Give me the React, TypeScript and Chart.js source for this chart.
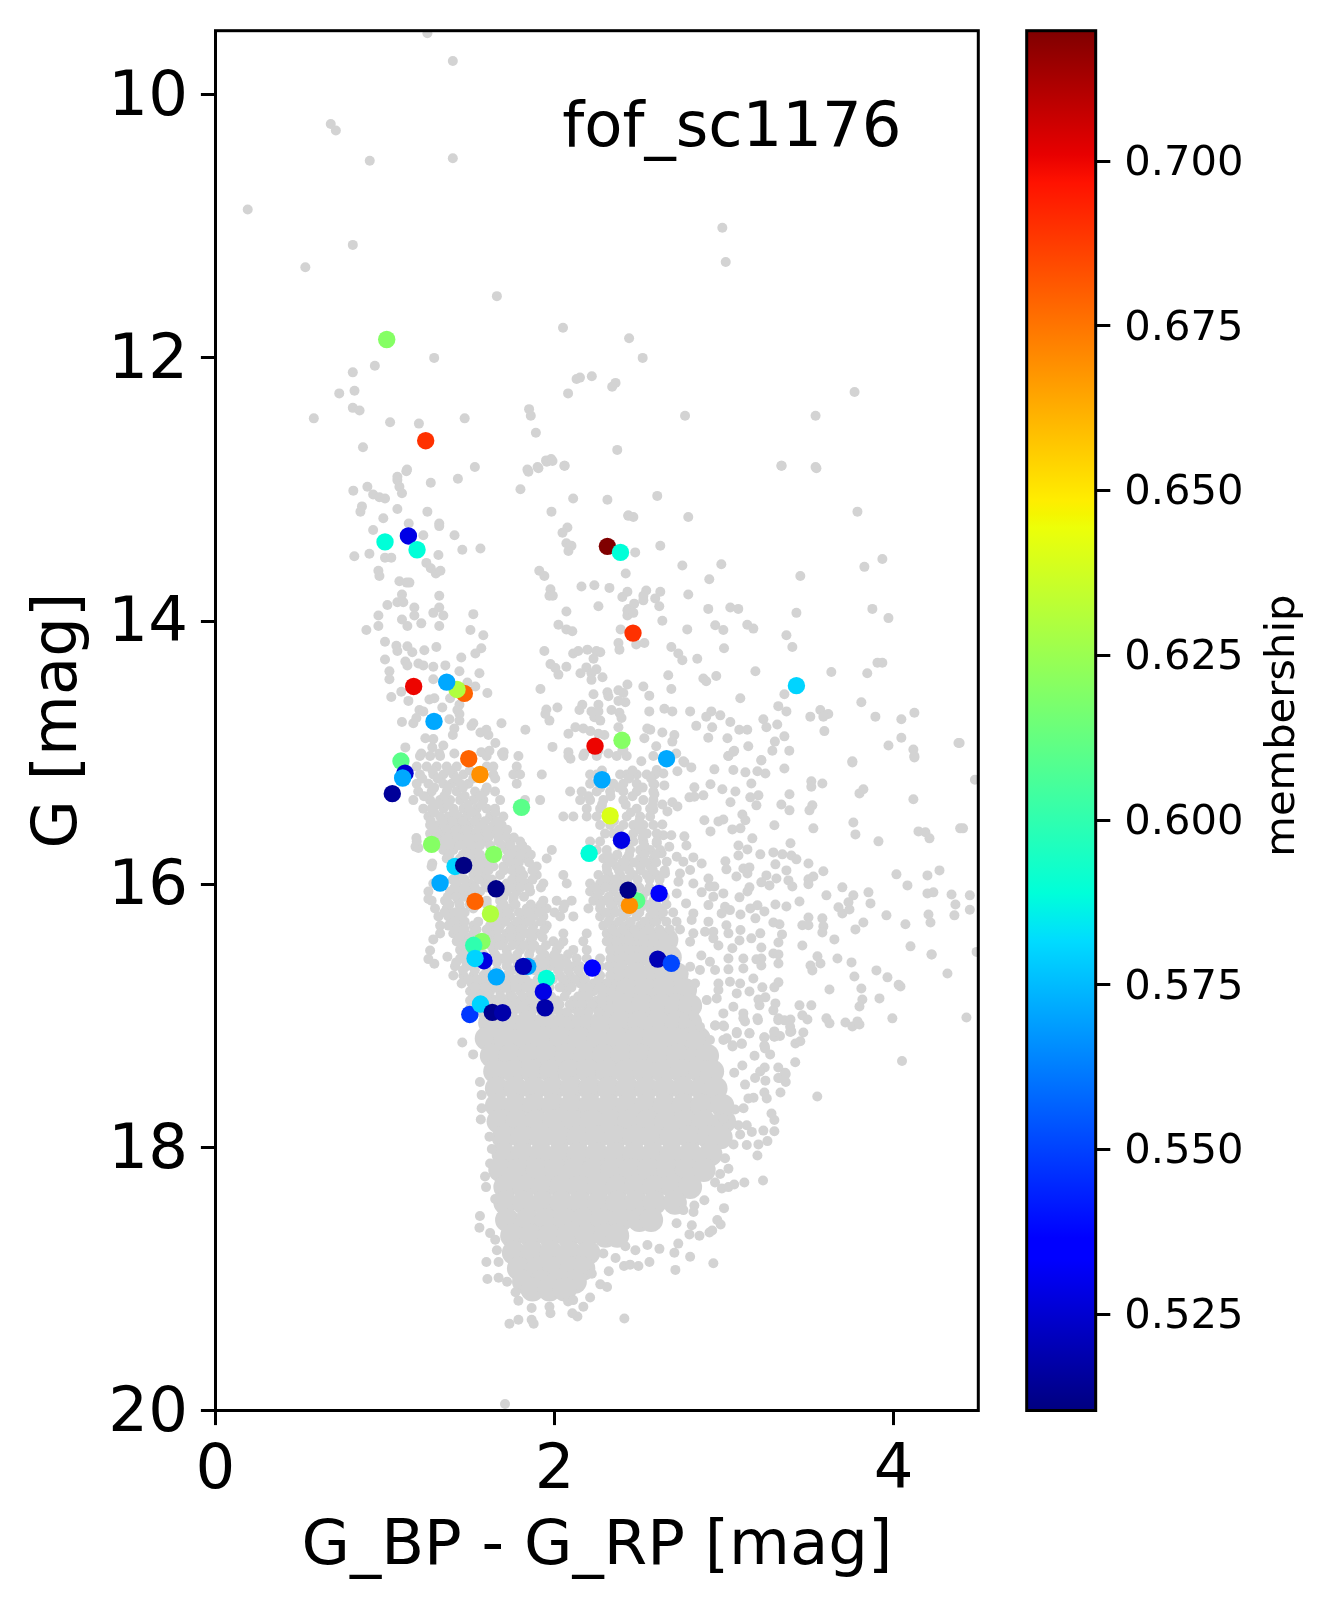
import React, { useEffect, useRef } from "react";
import { Chart, registerables } from "chart.js";

Chart.register(...registerables);

const xTicks = [0, 2, 4];
const yTicks = [10, 12, 14, 16, 18, 20];
const barTicks = [0.525, 0.55, 0.575, 0.6, 0.625, 0.65, 0.675, 0.7];
const xLimits = [0, 4.5];
const yLimits = [9.513, 20];
const barLimits = [0.5104, 0.7198];
const clusterName = "fof_sc1176";
const xName = "G_BP - G_RP [mag]";
const yName = "G [mag]";
const barName = "membership";
const FONT = "'DejaVu Sans'";

// candidate members: colour index, magnitude, membership probability
const memberBpRp = [1.01,1.24,1.0,1.138,1.189,2.312,2.389,2.463,3.427,1.169,1.468,1.425,1.364,1.289,2.239,2.398,1.094,1.494,1.56,1.118,1.104,1.043,2.28,2.661,1.805,2.328,2.395,1.275,1.641,2.204,1.413,1.464,1.325,1.655,2.485,2.442,2.434,2.617,1.531,1.622,1.572,1.523,1.584,1.531,1.657,1.842,1.816,2.223,2.609,2.689,1.952,1.934,1.944,1.5,1.563,1.633,1.694];
const memberG = [11.85,12.62,13.39,13.345,13.45,13.424,13.47,14.084,14.484,14.49,14.543,14.513,14.457,14.756,14.944,14.9,15.058,15.04,15.16,15.15,15.187,15.306,15.2,15.04,15.41,15.474,15.66,15.692,15.768,15.76,15.86,15.852,15.986,16.03,16.12,16.156,16.04,16.065,16.126,16.22,16.43,16.46,16.577,16.56,16.7,16.62,16.62,16.633,16.565,16.597,16.712,16.813,16.935,16.986,16.907,16.97,16.973];
const memberProb = [0.62,0.69,0.589,0.529,0.589,0.7198,0.589,0.69,0.58,0.7,0.679,0.63,0.571,0.571,0.7,0.62,0.61,0.679,0.669,0.525,0.571,0.515,0.571,0.571,0.61,0.64,0.529,0.62,0.62,0.589,0.58,0.511,0.571,0.512,0.61,0.669,0.512,0.533,0.679,0.63,0.62,0.6,0.528,0.58,0.571,0.571,0.52,0.536,0.52,0.551,0.589,0.529,0.518,0.548,0.58,0.513,0.518];

// sparse field stars: [colour, magnitude]
const greyOutliers = [
[1.25,9.52],[1.4,9.73],[0.68,10.21],[0.71,10.26],[0.91,10.49],[1.4,10.47],[0.19,10.86],[0.81,11.13],[0.53,11.3],[1.66,11.52],[2.05,11.76],[1.29,11.99],[0.94,12.05],[0.81,12.1],[2.13,12.15],[2.08,12.26],[0.73,12.26],[0.82,12.24],[0.81,12.37],[0.85,12.39],[0.58,12.45],[1.03,12.48],[1.2,12.49],[1.47,12.45],[1.85,12.38],[1.86,12.43],[1.89,12.56],[0.87,12.67],[1.13,12.84],[1.53,12.82],[1.84,12.84],[1.9,12.82],[1.95,12.77],[1.98,12.76],[2.06,12.81],
[2.99,11],[3.01,11.26],[2.44,11.84],[2.52,11.99],[2.22,12.13],[2.15,12.14],[2.36,12.18],[2.34,12.21],[3.77,12.25],[2.77,12.43],[3.54,12.43],[2.37,12.69],[3.34,12.81],[3.54,12.82],
[1.126,12.853],[1.073,12.894],[1.073,12.92],[1.27,12.94],[1.43,12.91],[0.896,12.97],[0.813,13],[1.085,12.97],[1.1,13.02],[0.93,13.03],[0.967,13.05],[1,13.06],[0.864,13.12],[0.855,13.16],[1.073,13.14],[1.25,13.16],[0.99,13.21],[0.93,13.3],[1.14,13.25],[1.32,13.25],[1.32,13.27],[1.226,13.34],[1.41,13.34],[0.908,13.48],[0.819,13.5],[1,13.51],[1.037,13.51],[1.315,13.49],[1.456,13.45],[1.563,13.44],[1.244,13.55],[1.27,13.59],[1.3,13.63],[1.327,13.61],[0.961,13.61],[0.967,13.65],[1.085,13.69],[1.128,13.7],[1.144,13.7],[1.32,13.8],[1.1,13.79],[1.073,13.85],[1.014,13.87],[1.108,13.85],[1.173,13.89],[1.173,13.95],[1.32,13.89],[1.285,13.93],[1.344,13.95],[0.961,13.95],[0.961,14.03],[0.89,14.06],[1.1,13.98],[1.132,14.03],[1.214,14.01],[1.32,14.03],[1.521,13.94],[1.504,14.06],[1.58,14.1],[1,14.15],[1.067,14.18],[1.073,14.22],[1.132,14.185],[1.161,14.23],[1.232,14.215],[1.303,14.19],[1.568,14.2],[1.533,14.24],[1.45,14.27],[1,14.285],[1.12,14.3],[1.132,14.33],[1.197,14.315],[1.226,14.33],[1.285,14.34],[1.356,14.33],[1.026,14.375],[1.026,14.436],[1.439,14.375],[1.557,14.39],[1.285,14.436],[1.486,14.46],[1.533,14.49],[1.604,14.54],[1.096,14.53],[1.037,14.57],[1.138,14.6],[1.262,14.59],[1.291,14.58],[1.338,14.65],[1.384,14.58],[1.439,14.63],[1.427,14.67],[1.203,14.67],[1.226,14.68],[1.1,14.76],[1.167,14.77],[1.185,14.73],[1.439,14.7],[1.439,14.75],[1.38,14.74],[1.409,14.81],[1.4,14.86],[1.521,14.77],[1.51,14.79],[1.687,14.77],[1.598,14.82],[1.563,14.84],[1.61,14.86],[1.651,14.92],[1.828,14.82],[1.238,14.885],[1.285,14.89],[1.12,14.954],[1.279,14.954],[1.344,14.94],[1.214,15],[1.32,15],[1.409,15],[1.568,14.99],[1.616,14.98],[1.7,14.99],[1.69,15],[1.787,15.02],
[1.846,12.856],[1.905,12.83],[1.954,12.78],[1.988,12.775],[2.058,12.81],[1.799,12.99],[2.11,13.06],[2.312,13.07],[1.982,13.16],[2.436,13.19],[2.076,13.28],[2.047,13.32],[2.07,13.4],[2.1,13.42],[2.082,13.46],[1.91,13.61],[1.94,13.65],[2.159,13.73],[2.235,13.72],[2.324,13.74],[1.976,13.75],[1.97,13.8],[1.99,13.8],[2.42,13.63],[2.43,13.77],[2.4,13.81],[2.259,13.88],[2.07,13.92],[2.43,13.95],[2.436,13.9],[2.023,14.02],[2.07,14.056],[2.105,14.07],[2.39,14.056],[2.377,14.16],[2.383,14.21],[1.94,14.22],[2.11,14.24],[2.14,14.22],[2.194,14.21],[2.247,14.22],[2.27,14.23],[2.23,14.28],[1.976,14.32],[2.005,14.35],[2.023,14.4],[2.07,14.34],[2.153,14.39],[2.188,14.345],[2.218,14.39],[2.247,14.36],[2.218,14.44],[2.283,14.42],[1.917,14.51],[2.23,14.55],[2.312,14.535],[2.318,14.565],[2.377,14.52],[2.406,14.54],[2.377,14.6],[2.418,14.61],[2.43,14.475],[2.017,14.65],[1.952,14.665],[1.946,14.7],[1.97,14.75],[2.164,14.63],[2.147,14.67],[2.259,14.63],[2.218,14.68],[2.235,14.725],[2.27,14.75],[2.259,14.68],[2.336,14.67],[2.383,14.69],[2.395,14.73],[2.377,14.8],[2.082,14.85],[2.123,14.8],[2.17,14.81],[2.212,14.83],[2.259,14.85],[2.294,14.86],[1.988,14.95],[2.082,14.99],[2.094,15.04],[2.176,15],[2.318,15],[2.259,14.98],[2.4,14.98],
[3.338,12.81],[3.545,12.83],[2.606,13.04],[2.435,13.19],[2.465,13.2],[2.789,13.2],[3.787,13.16],[2.476,13.47],[2.624,13.42],[2.754,13.57],[2.984,13.56],[2.913,13.675],[3.45,13.65],[3.828,13.58],[3.934,13.52],[2.541,13.76],[2.624,13.77],[2.524,13.8],[2.524,13.835],[2.594,13.82],[2.47,13.86],[2.618,13.88],[2.789,13.79],[2.43,13.91],[2.465,13.93],[2.636,13.99],[2.783,14.056],[2.907,13.9],[3.037,13.89],[3.084,13.9],[3.427,13.93],[3.875,13.9],[3.97,13.97],[2.948,14.025],[2.996,14.06],[3.137,14.02],[3.173,14.05],[3.368,14.1],[3.403,14.19],[3,14.2],[2.689,14.19],[2.73,14.24],[2.754,14.29],[2.842,14.28],[2.482,14.17],[2.53,14.16],[2.671,14.405],[2.878,14.43],[2.895,14.45],[2.954,14.41],[3.185,14.375],[3.633,14.38],[3.845,14.39],[3.905,14.31],[3.934,14.31],[2.524,14.49],[2.559,14.56],[2.689,14.51],[3.096,14.58],[3.356,14.55],[3.32,14.64],[3.368,14.68],[3.81,14.61],[3.568,14.67],[3.615,14.7],[3.586,14.72],[3.509,14.72],[3.893,14.72],[4.046,14.74],[4.123,14.69],[2.559,14.68],[2.648,14.66],[2.695,14.68],[2.8,14.68],[2.925,14.68],[2.895,14.72],[2.978,14.71],[3.037,14.76],[3.232,14.74],[3.25,14.8],[3.314,14.78],[2.836,14.79],[2.93,14.8],[3.09,14.82],[3.137,14.82],[3.592,14.83],[2.547,14.81],[2.565,14.82],[2.53,14.885],[2.636,14.84],[2.707,14.86],[2.695,14.91],[2.6,14.945],[2.907,14.88],[3.02,14.885],[3.356,14.87],[3.3,14.91],[3.143,14.945],[3.06,14.98],[3.025,15.02],[3.285,14.98],[3.385,14.98],[3.22,15.05],[3.97,14.94],[4.046,14.88],[4.117,14.97],[4.123,15.02],[4.383,14.92],[3.757,15.06],[2.718,15],[2.76,15.06],[2.512,15.06],[2.406,14.97],
[2.943,15.121],[3.055,15.126],[3.126,15.144],[3.197,15.136],[3.244,15.152],[3.356,15.114],[3.22,15.053],[3.026,15.02],[3.055,14.987],[3.757,15.068],[4.123,15.03],[2.725,15.136],[2.807,15.106],[2.766,15.068],[2.642,15.152],[2.603,15.126],[2.648,15.243],[2.589,15.235],[2.589,15.311],[2.825,15.258],[2.92,15.235],[2.99,15.273],[3.067,15.289],[3.161,15.228],[2.796,15.334],[2.825,15.329],[2.878,15.319],[3.155,15.334],[3.203,15.319],[3.038,15.372],[3.191,15.395],[3.386,15.311],[3.338,15.388],[3.386,15.433],[3.515,15.212],[3.515,15.253],[3.58,15.228],[3.521,15.395],[3.504,15.433],[3.822,15.273],[3.799,15.304],[4.117,15.349],[2.636,15.388],[2.695,15.372],[2.725,15.403],[2.666,15.441],[2.583,15.426],[2.884,15.509],[2.967,15.517],[2.996,15.502],[2.92,15.593],[3.108,15.464],[3.126,15.509],[3.049,15.578],[3.097,15.57],[3.297,15.547],[3.527,15.57],[3.763,15.525],[3.775,15.616],[3.911,15.669],[4.147,15.593],[4.188,15.6],[4.212,15.646],[4.393,15.57],[2.636,15.54],[2.642,15.623],[2.689,15.623],[2.766,15.631],[2.778,15.7],[2.677,15.71],[2.603,15.684],[2.632,15.76],[3.167,15.646],[3.085,15.7],[3.138,15.73],[3.085,15.776],[3.214,15.768],[3.291,15.753],[3.344,15.768],[3.397,15.776],[3.427,15.806],[3.392,15.684],[3.498,15.837],[3.586,15.897],[2.662,15.824],[2.721,15.786],[2.819,15.791],[2.868,15.837],[2.8,15.887],[2.76,15.824],[2.74,15.913],[3.008,15.821],[3.014,15.882],[3.073,15.936],[3.114,15.875],[3.15,15.867],[3.138,15.913],[3.303,15.844],[3.368,15.89],[2.908,15.951],[2.819,15.989],[2.731,15.976],[2.652,15.913],[2.721,16.065],[2.943,16.012],[2.914,16.012],[2.868,16.057],[2.996,16.065],[2.937,16.09],[3.091,16.095],[3.15,16.019],[3.138,16.05],[3.25,15.928],[3.22,15.981],[3.268,16.004],[3.309,15.951],[3.38,15.966],[3.403,16.012],[3.498,15.958],[3.527,15.936],[3.498,15.996],[4.017,15.92],[4.2,15.928],[4.271,15.89],[4.082,16.004],[4.2,16.065],[4.235,16.057],[4.342,16.073],[3.604,16.08],[3.698,16.019],[3.763,16.08],[3.852,16.057],[3.734,16.133],[3.864,16.141],[3.675,16.171],[3.698,16.217],[3.74,16.187],[4.365,16.149],[4.359,16.232],[4.206,16.225],[4.218,16.286],[3.958,16.232],[4.07,16.3],[3.303,16.149],[3.368,16.164],[3.445,16.126],[3.155,16.179],[3.197,16.156],[3.238,16.202],[3.097,16.225],[3.185,16.255],[2.776,16.141],[2.819,16.217],[2.809,16.268],[2.908,16.154],[3.006,16.166],[3.035,16.192],[2.986,16.217],[3.291,16.286],[3.327,16.3],[3.498,16.248],[3.462,16.308],[3.498,16.308],[3.58,16.255],[3.586,16.316],[3.58,16.362],[3.822,16.286],[3.775,16.339],[3.651,16.415],[3.462,16.461],[4.1,16.468],[4.224,16.529],[3.342,16.377],[3.321,16.438],[3.161,16.407],[3.214,16.369],[3.097,16.344],[3.014,16.308],[3.026,16.369],[2.908,16.28],[2.888,16.357],[2.937,16.357],[2.937,16.407],[2.967,16.461],[2.819,16.369],[2.8,16.433],[3.091,16.423],[3.049,16.483],[3.22,16.476],[3.291,16.522],[3.321,16.529],[3.321,16.598],[3.551,16.544],[3.669,16.56],[3.752,16.59],[3.51,16.613],[3.569,16.598],[3.521,16.651],[3.899,16.651],[3.769,16.697],[3.964,16.704],[4.318,16.674],[4.041,16.773],[3.81,16.788],[3.622,16.796],[3.917,16.864],[3.816,16.872],[3.799,16.925],[3.993,17.016],[2.866,16.537],[3.026,16.56],[3.191,16.567],[3.22,16.56],[3.22,16.613],[3.114,16.56],[3.114,16.636],[2.917,16.585],[3.026,16.643],[3.173,16.712],[3.226,16.78],[3.321,16.742],[3.297,16.78],[3.15,16.811],[3.445,16.917],[3.515,16.917],[3.244,16.856],[3.203,16.872],[3.209,16.917],[3.303,16.902],[3.291,16.955],[3.321,17.016],[3.356,17.031],[3.392,17.024],[3.462,16.993],[3.492,17.024],[3.197,17.016],[3.604,17.016],[3.622,17.054],[3.716,17.047],[3.757,17.077],[3.787,17.039],[3.799,17.062],[3.397,17.115],[3.468,17.123],[3.421,17.207],[3.297,17.115],[3.297,17.153],[3.238,17.161],[3.238,17.222],[3.15,17.13],[2.949,17.07],[3,17.077],[3.075,17.13],[3.114,17.016],[3.016,17.168],[3.104,17.207],[3.051,17.22],[2.858,16.648],[2.829,16.75],[2.947,16.648],[2.967,16.75],[3.035,16.737],[3.095,16.75],[2.967,16.8],[3.075,16.826],[2.898,16.877],[2.996,16.978],[3.055,16.927],[3.114,16.978],[2.957,16.864],[2.839,16.927],[2.819,17],[2.858,17.08],[2.917,17.18],[2.8,16.623],[2.76,16.674],
[1.185,15.644],[1.18,15.71],[1.197,15.72],[1.279,15.837],[1.256,16.108],[1.266,16.5],[1.256,16.565],[1.291,16.6],[1.368,16.547],[1.285,16.415],
[4.45,16.08],[4.45,16.19],[4.49,16.51],[4.43,17.01],[4.225,16.53],[4.05,17.34],[4.03,16.76],[4.41,15.57],[4.48,15.2],[4.39,14.92],[1.708,19.95],
[3.33,17.47],[3.36,17.43],[3.55,17.61],[3.24,17.39],[3.33,17.15],[3.39,17.08],[3.45,17.19],[3.42,17.35],[3.24,17.23],[3.28,17.74],
[1.456,17.2],[1.52,17.29],[1.56,17.5],[1.57,17.6],[1.57,17.7],[1.565,17.785],[1.616,17.917],[1.63,18.01],[1.62,18.12],[1.59,18.22],[1.596,18.3],[1.65,18.39],[1.56,18.52],[1.557,18.61],[1.62,18.65],[1.65,18.7],[1.66,18.78],[1.67,18.87],[1.598,18.87],[1.604,19],[1.67,18.99],[1.72,19.02],[1.77,19.1],[1.787,19.165],[1.865,19.22],[1.734,19.34],[1.787,19.31],[1.865,19.31],[1.877,19.34],[1.97,19.21],[1.976,19.26],[2.08,19.17],[2.11,19.16],[2.105,19.26],[2.135,19.285],[2.17,19.21],[2.21,19.14],[2.412,19.3],[2.27,19.04],[2.31,19.06],[2.22,18.96],[2.32,18.94],[2.41,18.9],[2.446,18.89],[2.495,18.9],[2.56,18.87],[2.713,18.93],[2.937,18.88],[2.8,18.83],[2.707,18.8],[2.73,18.73],[2.548,18.74],[2.619,18.77],[2.477,18.78],[2.418,18.75],[2.36,18.84],[2.288,18.805],[2.796,18.66],[2.855,18.67],[2.914,18.645],[2.93,18.63],[2.96,18.55],[2.98,18.585],[3,18.46],[2.81,18.59],[2.72,18.575],[2.82,18.49],[2.825,18.44],[2.884,18.4],[2.76,18.475],[2.987,18.31],[3.026,18.3],[3.06,18.28],[3.12,18.265],[3.23,18.25],[2.947,18.265],[2.977,18.2],[3.026,18.16],[3.006,18.08],[3.056,17.975],[3.134,17.98],[3.197,18.06],[3.203,17.975],[3.256,17.95],[3.232,17.87],[3.297,17.875],[3.297,17.79],[3.095,17.9],[3.164,17.88],[3.134,17.83],[3.085,17.83],[3.115,17.7],[3.065,17.71],[2.996,17.78],[3.144,17.625],[3.174,17.62],[3.252,17.625],[3.238,17.58],[3.333,17.58],[3.32,17.47],[3.364,17.44],[3.364,17.5],[3.244,17.49],[3.124,17.52],[3.183,17.47],[3.213,17.42],[3.32,17.39],[3.06,17.43],[3.108,17.375],[3.18,17.3],[3.272,17.29],[3.242,17.245],[3.238,17.16],[3.297,17.156],[3.297,17.12],[3.39,17.12],[3.15,17.13],[3.105,17.21],[3.05,17.23],[2.996,17.18],[2.947,17.07],[2.996,17.07],[3.075,17.12],[3.124,17.04],[3.2,17.03],[3.32,17.03],
];

// crowded parts of the two sequences, row by row: magnitude, then colours
const greyRows = [
[15.02,1.206,1.266,1.325,1.6,1.698,2.082,2.17,2.249,2.367,2.426,2.583],
[15.1,1.187,1.246,1.305,1.364,1.423,1.6,1.639,1.777],
[15.16,1.206,1.285,1.344,1.403,1.462,1.639,1.757,1.797,1.925,2.21,2.249,2.387,2.426,2.485,2.544,2.593],
[15.23,1.187,1.256,1.344,1.393,1.443,1.492,1.777,2.21,2.269,2.347,2.406,2.485,2.583],
[15.29,1.196,1.275,1.364,1.423,1.531,1.59,1.649,2.092,2.16,2.249,2.328,2.406,2.485,2.583],
[15.355,1.167,1.266,1.325,1.384,1.443,1.521,1.58,1.679,1.826,1.915,2.151,2.21,2.288,2.406,2.524,2.583],
[15.42,1.226,1.275,1.344,1.403,1.462,1.541,1.6,1.649,2.19,2.269,2.485,2.564],
[15.48,1.256,1.325,1.374,1.433,1.482,1.541,1.62,1.698,2.052,2.111,2.19,2.249,2.426,2.505,2.564],
[15.545,1.266,1.315,1.374,1.443,1.502,1.561,1.639,1.688,2.269,2.328,2.406,2.465,2.524,2.583],
[15.61,1.266,1.334,1.393,1.452,1.521,1.58,1.639,1.698,2.298,2.347,2.465,2.544,2.603],
[15.67,1.187,1.344,1.403,1.462,1.531,1.59,1.669,1.738,1.797,2.21,2.269,2.465,2.524,2.603],
[15.735,1.344,1.403,1.482,1.541,1.718,1.777,1.836,1.984,2.249,2.308,2.446,2.505,2.564,2.623],
[15.8,1.364,1.443,1.521,1.58,1.718,1.777,1.836,1.954,2.288,2.347,2.426,2.505,2.583],
[15.86,1.275,1.423,1.521,1.58,1.639,1.698,1.767,1.895,2.308,2.367,2.426,2.505,2.564],
[15.925,1.443,1.521,1.59,1.679,1.777,1.816,1.895,2.052,2.259,2.318,2.387,2.465,2.544,2.603],
[15.99,1.285,1.423,1.502,1.59,1.718,1.777,1.836,1.934,2.072,2.21,2.269,2.328,2.387],
[16.05,1.256,1.384,1.443,1.502,1.561,1.718,1.777,1.856,2.21,2.269,2.347,2.544],
[16.12,1.275,1.354,1.433,1.6,1.679,1.757,1.934,2.013,2.101,2.229,2.288,2.367,2.583],
[16.18,1.295,1.364,1.443,1.521,1.679,1.738,1.836,1.895,1.954,2.052,2.2,2.269,2.347,2.406,2.505,2.564,2.623],
[16.24,1.315,1.374,1.433,1.679,1.738,1.816,1.875,1.934,2.033,2.111,2.269,2.328,2.406,2.485,2.564,2.623],
[16.31,1.325,1.374,1.443,1.521,1.62,1.679,1.757,1.816,1.875,1.954,2.288,2.347,2.426,2.505,2.564],
[16.37,1.325,1.403,1.462,1.521,1.639,1.718,1.777,1.836,1.895,2.052,2.19,2.308,2.367,2.446,2.524,2.583],
[16.43,1.423,1.482,1.639,1.698,1.777,1.856,1.993,2.052,2.17,2.308,2.367,2.446,2.524,2.583],
[16.495,1.443,1.502,1.639,1.718,1.797,1.856,1.915,2.013,2.111,2.19,2.328,2.387,2.446,2.524],
[16.56,1.443,1.679,1.738,1.915,1.974,2.033,2.131,2.19,2.269,2.33],
[16.62,1.413,1.482,1.718,1.915,1.974,2.033,2.111,2.151,2.269,2.318],
[16.69,1.403,1.462,1.521,1.58,1.718,1.797,1.915,2.033,2.092,2.151,2.269,2.328],
[16.75,1.452,1.511,1.561,1.62,1.679,1.738,1.797,1.856,2.072,2.151,2.229,2.308],
[16.81,1.502,1.561,1.62,1.679,1.738,1.797,1.856,2.072,2.17,2.229,2.308],
[16.88,1.502,1.639,1.718,1.777,1.836,1.895,2.013,2.111,2.17,2.249],
[16.94,1.502,1.561,2.013,2.111,2.19,2.249],
[15.13,1.28,1.38,1.5,2.28,2.46],
[15.19,1.22,1.31,1.42,1.52,1.65,2.3,2.44,2.57],
[15.26,1.29,1.37,1.46,1.6,2.27,2.38,2.52],
[15.325,1.23,1.35,1.47,1.56,2.2,2.33,2.46],
[15.39,1.3,1.37,1.49,1.57,2.28,2.42,2.58],
[15.45,1.29,1.41,1.51,1.65,2.31,2.45],
[15.515,1.27,1.34,1.4,1.46,1.53,1.59,1.66,2.35,2.5],
[15.58,1.29,1.36,1.42,1.48,1.55,1.6,1.66,1.72,2.38,2.5],
[15.64,1.3,1.37,1.43,1.49,1.55,1.61,1.67,1.72,1.76,2.4,2.52],
[15.7,1.33,1.38,1.44,1.51,1.56,1.62,1.69,1.74,1.81,2.39,2.53],
[15.77,1.38,1.46,1.5,1.56,1.74,1.8,1.86,2.31,2.37,2.44,2.53,2.6],
[15.83,1.4,1.47,1.55,1.6,1.74,1.79,1.85,2.33,2.4,2.47,2.54,2.6],
[15.89,1.46,1.55,1.61,1.7,1.75,1.8,1.87,2.31,2.38,2.44,2.51,2.58,2.65],
[15.96,1.4,1.47,1.55,1.63,1.75,1.8,1.87,2.3,2.36,2.43,2.49,2.56,2.62],
[16.02,1.41,1.47,1.53,1.6,1.74,1.8,1.85,1.92,2.24,2.3,2.36,2.42,2.5,2.56,2.62],
[16.09,1.37,1.42,1.47,1.53,1.7,1.76,1.82,2.25,2.32,2.38,2.44,2.52,2.59,2.65],
[16.15,1.38,1.44,1.5,1.6,1.7,1.77,1.86,1.92,2.06,2.27,2.33,2.4,2.47,2.54,2.6,2.66],
[16.21,1.35,1.41,1.47,1.72,1.79,1.85,1.91,2,2.3,2.36,2.43,2.5,2.58,2.64,2.7],
[16.28,1.41,1.47,1.55,1.64,1.71,1.78,1.85,1.92,2.32,2.38,2.45,2.53,2.6,2.66,2.72],
[16.34,1.42,1.47,1.54,1.6,1.67,1.74,1.8,1.87,1.94,2.34,2.4,2.47,2.55,2.62,2.68,2.74],
[16.4,1.44,1.5,1.6,1.67,1.74,1.8,1.87,1.93],
[16.46,1.46,1.54,1.62,1.68,1.75,1.82,1.88,1.95,2.03],
[16.53,1.47,1.58,1.65,1.72,1.78,1.85,1.94,2,2.08],
[16.59,1.42,1.48,1.55,1.66,1.72,1.78,1.88,1.94,2,2.07],
[16.65,1.46,1.53,1.6,1.66,1.75,1.82,1.88,1.95,2.02,2.08,2.14,2.2],
[16.72,1.49,1.54,1.6,1.65,1.71,1.76,1.83,1.9,1.99,2.05,2.12,2.18,2.26],
[16.78,1.53,1.59,1.65,1.71,1.77,1.83,1.9,1.97,2.03,2.1,2.2,2.27],
[16.85,1.52,1.58,1.6,1.68,1.75,1.81,1.87,1.92,1.98,2.06,2.14,2.2,2.28],
[16.91,1.53,1.6,1.7,1.88,1.95,2.03,2.09,2.15,2.22,2.28],
[16.97,1.5,1.56,2.03,2.07,2.14,2.2,2.26],
];

// solid heart of the diagram, drawn as broader marks: magnitude, then colours
const greyCoreRows = [
[16.42,2.38,2.48,2.58,2.66],
[16.55,2.38,2.48,2.58,2.68],
[16.68,2.38,2.48,2.58,2.66,2.72],
[16.8,2.32,2.43,2.54,2.65,2.77],
[16.92,1.62,1.73,1.84,1.95,2.3,2.41,2.52,2.63,2.72,2.8],
[17.05,1.62,1.73,1.84,1.95,2.06,2.17,2.28,2.39,2.5,2.61,2.72,2.8],
[17.17,1.6,1.71,1.82,1.93,2.04,2.15,2.26,2.37,2.48,2.59,2.7,2.81,2.85],
[17.3,1.63,1.74,1.85,1.96,2.07,2.18,2.29,2.4,2.51,2.62,2.73,2.84,2.9],
[17.42,1.65,1.76,1.87,1.98,2.09,2.2,2.31,2.42,2.53,2.64,2.75,2.86,2.93],
[17.55,1.66,1.77,1.88,1.99,2.1,2.21,2.32,2.43,2.54,2.65,2.76,2.87,2.95],
[17.68,1.66,1.77,1.88,1.99,2.1,2.21,2.32,2.43,2.54,2.65,2.76,2.87,2.99],
[17.8,1.67,1.78,1.89,2,2.11,2.22,2.33,2.44,2.55,2.66,2.77,2.88,3],
[17.92,1.7,1.81,1.92,2.03,2.14,2.25,2.36,2.47,2.58,2.69,2.8,2.91,2.98],
[18.05,1.7,1.81,1.92,2.03,2.14,2.25,2.36,2.47,2.58,2.69,2.8,2.92],
[18.17,1.68,1.79,1.9,2.01,2.12,2.23,2.34,2.45,2.56,2.67,2.78,2.88],
[18.3,1.71,1.82,1.93,2.04,2.15,2.26,2.37,2.48,2.59,2.7,2.8],
[18.42,1.71,1.82,1.93,2.04,2.15,2.26,2.37,2.48,2.59,2.71],
[18.55,1.72,1.84,1.95,2.06,2.17,2.28,2.39,2.5,2.57],
[18.67,1.75,1.86,1.97,2.08,2.19,2.3,2.37],
[18.8,1.76,1.87,1.98,2.09,2.2],
[18.92,1.79,1.9,2,2.1,2.17],
[19.02,1.82,1.92,2.02,2.12],
[19.08,1.87,1.97,2.06],
];

// magnitudes above were read with the frame taken as G = 9.5 at the top; the ticks put it at 9.513
const magnitudeReadingFactor = 0.99876;
const trueMagnitude = (g: number) => yLimits[0] + (g - 9.5) * magnitudeReadingFactor;

// matplotlib jet colour map: break point, red, green, blue
const jetStops = [
[0,0,0,0.5],[0.11,0,0,1],[0.125,0,0,1],[0.34,0,0.86,1],[0.35,0,0.9,0.96],[0.375,0,1,0.85],
[0.64,0.93,1,0.03],[0.65,0.96,0.96,0],[0.66,1,0.93,0],[0.89,1,0.07,0],[0.91,0.91,0,0],[1,0.5,0,0],
];

const toCss = (r: number, g: number, b: number) =>
  `rgb(${Math.round(r * 255)},${Math.round(g * 255)},${Math.round(b * 255)})`;

function jet(t: number) {
  const v = Math.min(1, Math.max(0, t));
  for (let i = 1; i < jetStops.length; i++) {
    const a = jetStops[i - 1];
    const b = jetStops[i];
    if (v <= b[0]) {
      const f = (v - a[0]) / (b[0] - a[0]);
      return toCss(a[1] + (b[1] - a[1]) * f, a[2] + (b[2] - a[2]) * f, a[3] + (b[3] - a[3]) * f);
    }
  }
  return toCss(0.5, 0, 0);
}

const fromRows = (rows: number[][]) =>
  rows.flatMap((r) => r.slice(1).map((x) => ({ x, y: trueMagnitude(r[0]) })));

const W = 1329;
const H = 1609;
const LEFT = 215.5;
const RIGHT = 978.3;
const TOP = 30.7;
const BOTTOM = 1410.5;
const BAR_LEFT = 1026.7;
const BAR_RIGHT = 1095.7;
const SPINE = 3;
const TICK_LEN = 14.6;
const LABEL_SIZE = 62.5;

const noExtraPadding = (s: any) => {
  s.paddingTop = 0;
  s.paddingBottom = 0;
  s.paddingLeft = 0;
  s.paddingRight = 0;
};

const mainFrame = {
  id: "mainFrame",
  afterDatasetsDraw(chart: any) {
    const { ctx, chartArea: a, scales } = chart;
    ctx.save();
    ctx.strokeStyle = "#000";
    ctx.lineWidth = SPINE;
    ctx.strokeRect(a.left, a.top, a.right - a.left, a.bottom - a.top);
    ctx.fillStyle = "#000";
    ctx.font = `${LABEL_SIZE}px ${FONT}`;
    ctx.textAlign = "left";
    ctx.textBaseline = "alphabetic";
    ctx.fillText(clusterName, scales.x.getPixelForValue(2.045), scales.y.getPixelForValue(10.39));
    ctx.restore();
  },
};

const barFrame = {
  id: "barFrame",
  afterDatasetsDraw(chart: any) {
    const { ctx, chartArea: a } = chart;
    ctx.save();
    ctx.strokeStyle = "#000";
    ctx.lineWidth = SPINE;
    ctx.strokeRect(a.left, a.top, a.right - a.left, a.bottom - a.top);
    ctx.translate(1283, (a.top + a.bottom) / 2 + 5);
    ctx.rotate(-Math.PI / 2);
    ctx.fillStyle = "#000";
    ctx.font = `41.67px ${FONT}`;
    ctx.textAlign = "center";
    ctx.textBaseline = "middle";
    ctx.fillText(barName, 0, 0);
    ctx.restore();
  },
};

export default function App() {
  const mainRef = useRef<HTMLCanvasElement>(null);
  const barRef = useRef<HTMLCanvasElement>(null);

  useEffect(() => {
    const members = memberBpRp.map((x, i) => ({ x, y: trueMagnitude(memberG[i]) }));
    const tickGrid = {
      display: true,
      drawOnChartArea: false,
      drawTicks: true,
      tickLength: TICK_LEN,
      tickWidth: SPINE,
      tickColor: "#000",
    };
    const main = new Chart(mainRef.current as HTMLCanvasElement, {
      type: "scatter",
      data: {
        datasets: [
          {
            label: "members",
            data: members,
            order: 0,
            pointRadius: 8.7,
            pointBorderWidth: 0,
            pointBackgroundColor: (c: any) =>
              jet((memberProb[c.dataIndex] - barLimits[0]) / (barLimits[1] - barLimits[0])),
          },
          {
            label: "field",
            data: greyOutliers.map(([x, y]) => ({ x, y: trueMagnitude(y) })).concat(fromRows(greyRows)),
            order: 1,
            pointRadius: 5,
            pointBorderWidth: 0,
            pointBackgroundColor: "#d3d3d3",
          },
          {
            label: "field core",
            data: fromRows(greyCoreRows),
            order: 2,
            pointRadius: 12,
            pointBorderWidth: 0,
            pointBackgroundColor: "#d3d3d3",
          },
        ],
      },
      options: {
        animation: false,
        responsive: false,
        devicePixelRatio: 1,
        layout: { padding: { left: 0, top: TOP, right: W - RIGHT, bottom: 0 } },
        plugins: { legend: { display: false }, tooltip: { enabled: false } },
        scales: {
          x: {
            type: "linear",
            min: xLimits[0],
            max: xLimits[1],
            afterBuildTicks: (s: any) => { s.ticks = xTicks.map((value) => ({ value })); },
            afterFit: (s: any) => { s.height = H - BOTTOM; noExtraPadding(s); },
            grid: tickGrid,
            border: { display: false },
            ticks: { color: "#000", font: { family: FONT, size: LABEL_SIZE }, padding: 9, maxRotation: 0, autoSkip: false },
            title: { display: true, text: xName, color: "#000", font: { family: FONT, size: LABEL_SIZE }, padding: 24 },
          },
          y: {
            type: "linear",
            reverse: true,
            min: yLimits[0],
            max: yLimits[1],
            afterBuildTicks: (s: any) => { s.ticks = yTicks.map((value) => ({ value })); },
            afterFit: (s: any) => { s.width = LEFT; noExtraPadding(s); },
            grid: tickGrid,
            border: { display: false },
            ticks: { color: "#000", font: { family: FONT, size: LABEL_SIZE }, padding: 13, labelOffset: 4, autoSkip: false },
            title: { display: true, text: yName, color: "#000", font: { family: FONT, size: LABEL_SIZE }, padding: 22 },
          },
        },
      } as any,
      plugins: [mainFrame],
    });

    const bar = new Chart(barRef.current as HTMLCanvasElement, {
      type: "bar",
      data: {
        labels: [barName],
        datasets: [
          {
            label: barName,
            data: [[barLimits[0], barLimits[1]]] as any,
            barPercentage: 1,
            categoryPercentage: 1,
            borderWidth: 0,
            backgroundColor: (c: any) => {
              const a = c.chart.chartArea;
              if (!a) return "#000";
              const g = c.chart.ctx.createLinearGradient(0, a.bottom, 0, a.top);
              jetStops.forEach((s) => g.addColorStop(s[0], toCss(s[1], s[2], s[3])));
              return g;
            },
          },
        ],
      },
      options: {
        animation: false,
        responsive: false,
        devicePixelRatio: 1,
        layout: { padding: { left: BAR_LEFT, top: TOP, right: 0, bottom: H - BOTTOM } },
        plugins: { legend: { display: false }, tooltip: { enabled: false } },
        scales: {
          x: { display: false },
          y: {
            position: "right",
            min: barLimits[0],
            max: barLimits[1],
            afterBuildTicks: (s: any) => { s.ticks = barTicks.map((value) => ({ value })); },
            afterFit: (s: any) => { s.width = W - BAR_RIGHT; noExtraPadding(s); },
            grid: tickGrid,
            border: { display: false },
            ticks: {
              color: "#000",
              font: { family: FONT, size: 41.67 },
              padding: 14,
              labelOffset: 3,
              autoSkip: false,
              callback: (v: any) => Number(v).toFixed(3),
            },
          },
        },
      } as any,
      plugins: [barFrame],
    });

    return () => {
      main.destroy();
      bar.destroy();
    };
  }, []);

  const style: React.CSSProperties = { position: "absolute", left: 0, top: 0, display: "block" };
  return (
    <div>
      <canvas ref={mainRef} width={W} height={H} style={{ ...style, width: W, height: H }} />
      <canvas ref={barRef} width={W} height={H} style={{ ...style, width: W, height: H, pointerEvents: "none" }} />
    </div>
  );
}
